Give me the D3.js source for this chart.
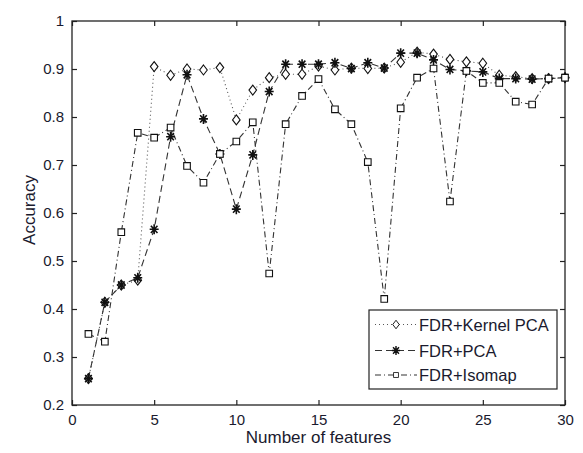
<!DOCTYPE html>
<html><head><meta charset="utf-8">
<script src="https://cdn.jsdelivr.net/npm/d3@7"></script>
<style>body{margin:0;background:#fff}text{font-family:"Liberation Sans",Arial,sans-serif;fill:#1a1a2e}</style>
</head><body><svg id="c" width="583" height="453"></svg>
<script>
const features = d3.range(1, 31);
const kernelPCA = [0.255,0.414,0.45,0.46,0.905,0.887,0.9,0.898,0.903,0.794,0.856,0.882,0.889,0.889,0.906,0.898,0.902,0.901,0.902,0.914,0.935,0.931,0.92,0.915,0.912,0.887,0.884,0.88,0.88,0.882];
const pca = [0.255,0.414,0.45,0.465,0.566,0.759,0.888,0.796,0.723,0.608,0.721,0.853,0.91,0.91,0.91,0.913,0.901,0.913,0.902,0.933,0.933,0.919,0.899,0.896,0.894,0.88,0.88,0.879,0.88,0.882];
const isomap = [0.348,0.332,0.56,0.767,0.757,0.778,0.698,0.663,0.723,0.749,0.789,0.474,0.785,0.844,0.879,0.816,0.785,0.706,0.421,0.818,0.882,0.901,0.624,0.896,0.871,0.871,0.832,0.826,0.88,0.882];
const xTicks = [0,5,10,15,20,25,30];
const yTicks = [0.2,0.3,0.4,0.5,0.6,0.7,0.8,0.9,1];
const seriesNames = ["FDR+Kernel PCA","FDR+PCA","FDR+Isomap"];

const svg = d3.select("#c");
const L=72, R=565, T=21, B=405;
const x = d3.scaleLinear().domain([0,30]).range([L,R]);
const y = d3.scaleLinear().domain([0.2,1]).range([B,T]);
const axCol = "#222";

const fmtY = d => d===1 ? "1" : d.toFixed(1);
// axes (inward ticks, mirrored)
const gB = svg.append("g").attr("transform",`translate(0,${B})`).call(d3.axisBottom(x).tickValues(xTicks).tickSize(-5).tickPadding(9).tickFormat(d3.format("d")));
const gT = svg.append("g").attr("transform",`translate(0,${T})`).call(d3.axisTop(x).tickValues(xTicks).tickSize(-5).tickFormat(""));
const gL = svg.append("g").attr("transform",`translate(${L},0)`).call(d3.axisLeft(y).tickValues(yTicks).tickSize(-5).tickPadding(8).tickFormat(fmtY));
const gR = svg.append("g").attr("transform",`translate(${R},0)`).call(d3.axisRight(y).tickValues(yTicks).tickSize(-5).tickFormat(""));
[gB,gT,gL,gR].forEach(g=>{
  g.select(".domain").remove();
  g.selectAll("line").attr("stroke",axCol).attr("stroke-width",1.2);
  g.selectAll("text").style("font-size","15px").attr("fill","#1a1a2e");
});
svg.append("rect").attr("x",L).attr("y",T).attr("width",R-L).attr("height",B-T).attr("fill","none").attr("stroke",axCol).attr("stroke-width",1.3);

svg.append("text").attr("x",(L+R)/2).attr("y",443).attr("text-anchor","middle").style("font-size","17px").text("Number of features");
svg.append("text").attr("transform",`translate(35,210) rotate(-90)`).attr("text-anchor","middle").style("font-size","17px").text("Accuracy");

const series = [
  {name:seriesNames[0], vals:kernelPCA, dash:"1,3", marker:"diamond", col:"#555"},
  {name:seriesNames[1], vals:pca, dash:"7,4", marker:"star", col:"#333"},
  {name:seriesNames[2], vals:isomap, dash:"6,3,1,3", marker:"square", col:"#333"}
];
function markerPath(m){
  if(m==="diamond") return "M0,-5L3.8,0L0,5L-3.8,0Z";
  if(m==="square") return "M-3.3,-3.3H3.3V3.3H-3.3Z";
  return "M-4.5,0H4.5M0,-5V5M-3.3,-3.6L3.3,3.6M-3.3,3.6L3.3,-3.6";
}
const line = d3.line().x((d,i)=>x(features[i])).y(d=>y(d));
series.forEach(s=>{
  svg.append("path").attr("d",line(s.vals)).attr("fill","none").attr("stroke",s.col).attr("stroke-width",1.1).attr("stroke-dasharray",s.dash);
});
series.forEach(s=>{
  svg.append("g").selectAll("path").data(s.vals).join("path")
    .attr("transform",(d,i)=>`translate(${x(features[i])},${y(d)})`)
    .attr("d",markerPath(s.marker))
    .attr("fill",s.marker==="star"?"none":"#fff")
    .attr("stroke","#111").attr("stroke-width",s.marker==="star"?1.6:1.1);
});

// legend
const lg = svg.append("g");
lg.append("rect").attr("x",369).attr("y",310).attr("width",188).attr("height",79).attr("fill","#fff").attr("stroke",axCol).attr("stroke-width",1.2);
const rowsY = [324.5,350.5,375];
series.forEach((s,i)=>{
  const yy = rowsY[i];
  lg.append("line").attr("x1",375).attr("x2",417).attr("y1",yy).attr("y2",yy).attr("stroke",s.col).attr("stroke-width",1.1).attr("stroke-dasharray",s.dash);
  const sc = s.marker==="square"?0.75:(s.marker==="diamond"?0.85:0.9);
  lg.append("path").attr("transform",`translate(396,${yy}) scale(${sc})`).attr("d",markerPath(s.marker))
    .attr("fill",s.marker==="star"?"none":"#fff").attr("stroke","#111").attr("stroke-width",s.marker==="star"?1.6:1.1);
  lg.append("text").attr("x",419).attr("y",yy+6).style("font-size","16.5px").text(s.name);
});
</script></body></html>
